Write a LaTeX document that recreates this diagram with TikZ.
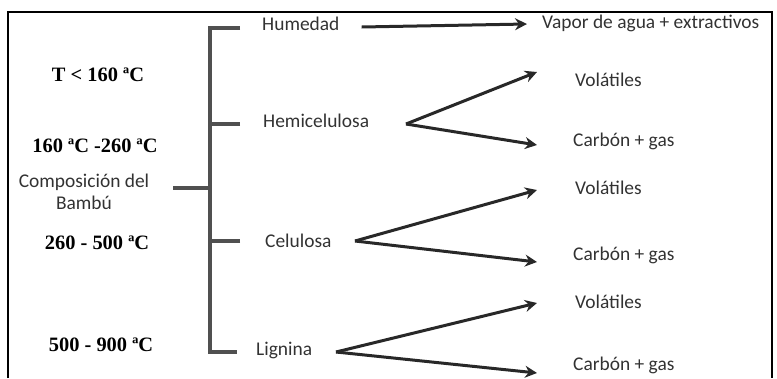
\documentclass[tikz,border=0pt]{standalone}
\usepackage{fontspec}
\setmainfont{Liberation Serif}
\setsansfont{Carlito}
\usepackage{tikz}
\usetikzlibrary{positioning, arrows.meta, calc}
\definecolor{textgray}{RGB}{50,50,50}
\definecolor{linegray}{RGB}{80,80,80}
\definecolor{arrowgray}{RGB}{40,40,40}

\begin{document}
\begin{tikzpicture}[
    x=1bp, y=-1bp,
    >={Stealth[length=12bp, width=12bp, inset=4bp]},
    part/.style={font=\sffamily\fontsize{19.5}{22}\selectfont, text=textgray,
                 inner sep=0pt, anchor=west},
    temp/.style={font=\rmfamily\bfseries\fontsize{20.5}{22}\selectfont,
                 inner sep=0pt},
    bracket/.style={line width=3.2bp, draw=linegray},
    arr/.style={->, line width=3bp, draw=arrowgray},
  ]
  \useasboundingbox (0,0) rectangle (777,378);

  % Frame (open at the bottom)
  \draw[line width=2bp] (8,378) -- (8,12) -- (772,12) -- (772,378);

  % Temperature ranges
  \node[temp] (t1) at (98,75) {T < 160 ªC};
  \node[temp] (t2) at (95,146) {160 ªC -260 ªC};
  \node[temp] (t3) at (97,243) {260 - 500 ªC};
  \node[temp] (t4) at (101,345) {500 - 900 ªC};

  % Root
  \node[part, anchor=center, align=center] (root) at (84,192)
    {Composición del\\Bambú};

  % Components
  \node[part] (hum) at (262,24) {Humedad};
  \node[part] (hemi) at (263,121) {Hemicelulosa};
  \node[part] (celu) at (265,241) {Celulosa};
  \node[part] (lign) at (256,350) {Lignina};

  % Bracket
  \coordinate (sp) at (210,0);
  \coordinate (r0) at (173,188);
  \coordinate (b1) at (240,28);
  \coordinate (b2) at (240,124);
  \coordinate (b3) at (240,241);
  \coordinate (b4) at (237,352);
  \draw[bracket] (b1) -- (b1 -| sp) -- (b4 -| sp) -- (b4);
  \foreach \b in {b2,b3,r0}
    \draw[bracket] (\b) -- (\b -| sp);

  % Products
  \node[part] (vap) at (542,23) {Vapor de agua + extractivos};
  \node[part] (vol1) at (575,80) {Volátiles};
  \node[part] (car1) at (573,141) {Carbón + gas};
  \node[part] (vol2) at (575,188) {Volátiles};
  \node[part] (car2) at (573,255) {Carbón + gas};
  \node[part] (vol3) at (575,302) {Volátiles};
  \node[part] (car3) at (573,365) {Carbón + gas};

  % Arrows
  \draw[arr] ($(hum.east)+(22,3)$) -- ($(vap.west)+(-15,1)$);

  \coordinate (hv) at (406,124);
  \coordinate (cv) at (355,241);
  \coordinate (lv) at (336,352);
  \draw[arr] (hv) -- ($(vol1.west)+(-38,-8)$);
  \draw[arr] (hv) -- ($(car1.west)+(-36,4)$);
  \draw[arr] (cv) -- ($(vol2.west)+(-38,2)$);
  \draw[arr] (cv) -- ($(car2.west)+(-36,7)$);
  \draw[arr] (lv) -- ($(vol3.west)+(-38,1)$);
  \draw[arr] (lv) -- ($(car3.west)+(-36,8)$);

\end{tikzpicture}
\end{document}
